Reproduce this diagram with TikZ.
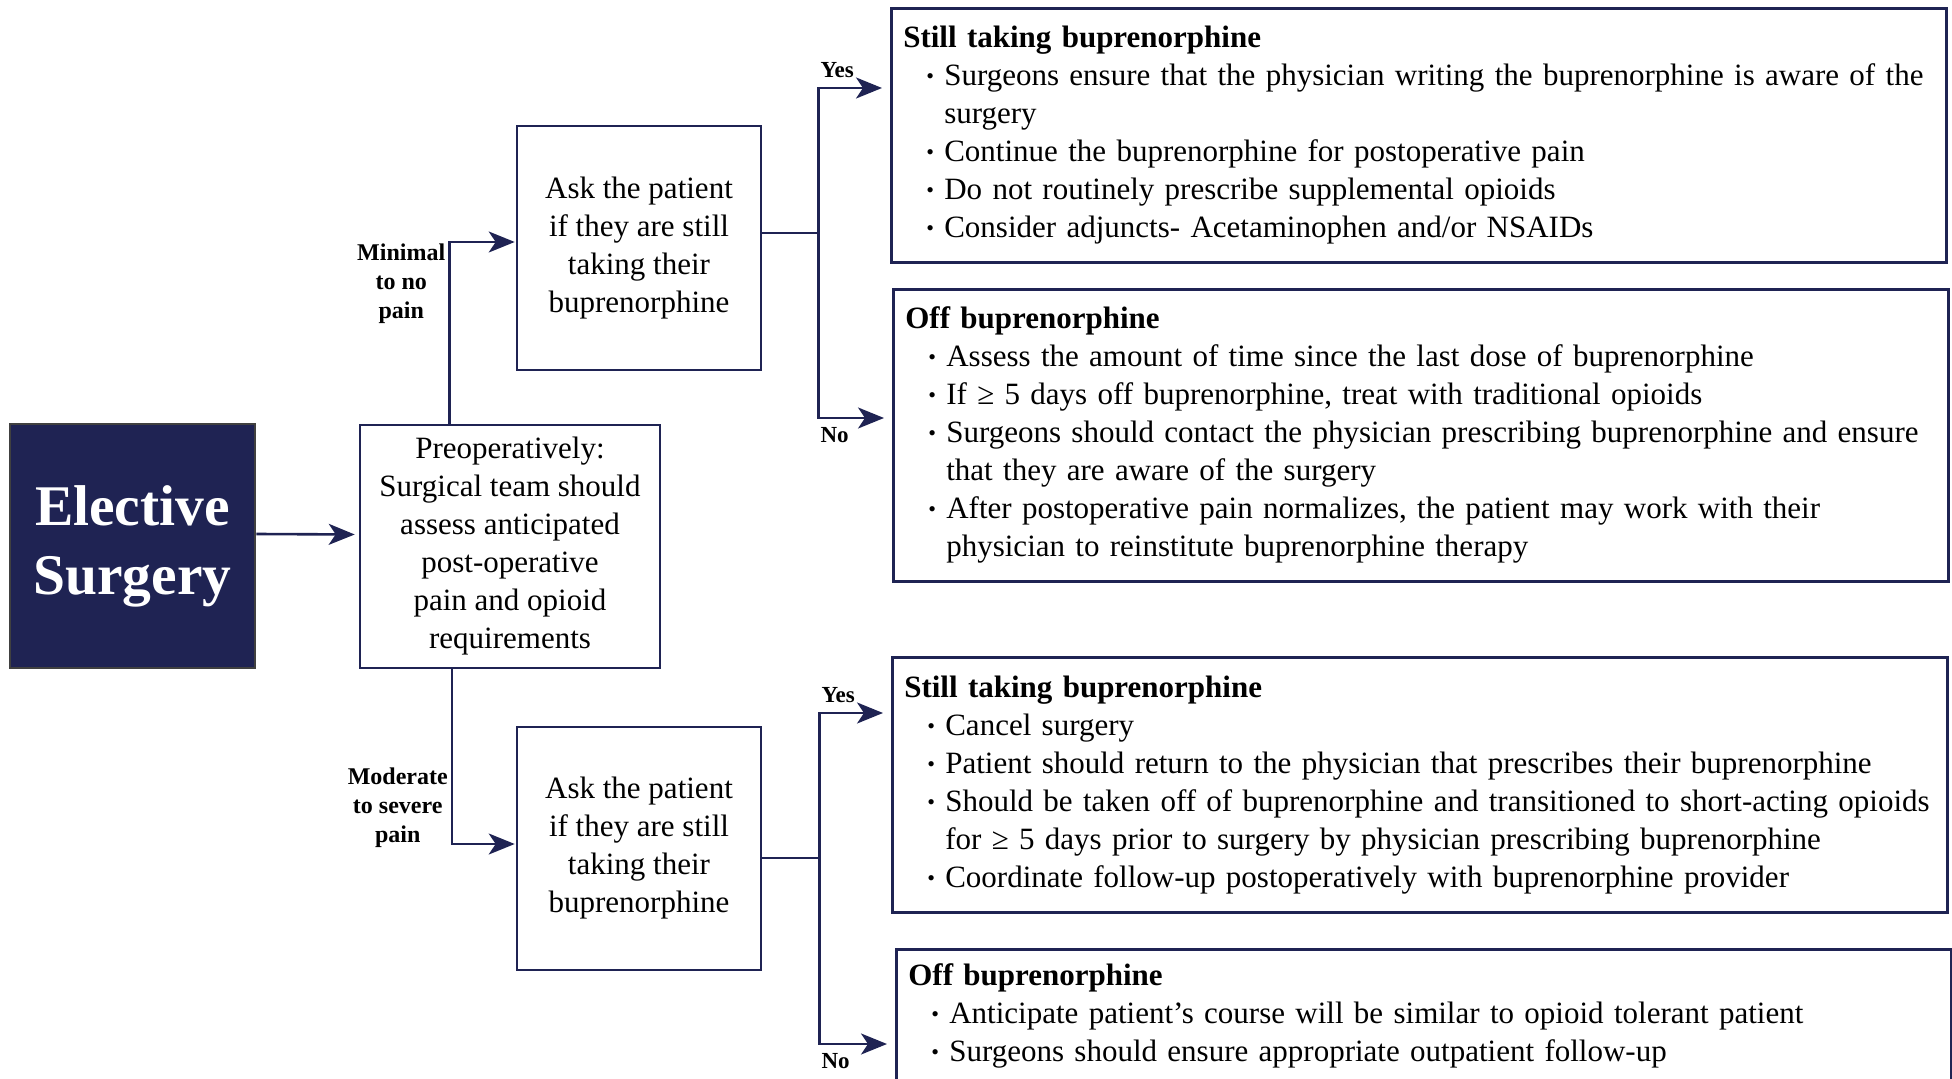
\documentclass[tikz,border=0pt]{standalone}
\usepackage{fontspec}
\setmainfont{Liberation Serif}
\usetikzlibrary{arrows.meta}
\definecolor{navy}{RGB}{31,35,83}
\newcommand{\bitem}{\par\hangindent=20.5pt\hangafter=1\noindent\hspace*{11.5pt}\makebox[9pt][l]{\raisebox{1pt}{\fontsize{11}{11}\selectfont\textbullet}}}

\begin{document}
\begin{tikzpicture}[x=0.5pt, y=-0.5pt, line width=1.3pt,
  arr/.style={draw=navy, -{Stealth[length=13pt, width=10.5pt, inset=3.5pt]}},
  qbox/.style={draw=navy, rectangle, inner sep=0pt, align=center, font=\fontsize{15.5}{19}\selectfont},
  info/.style={draw=navy, rectangle, anchor=north west, inner xsep=6pt, inner ysep=7pt, text width=515.5pt, font=\fontsize{15.5}{19}\selectfont},
  lbl/.style={font=\bfseries\fontsize{12}{14.5}\selectfont, align=center, inner sep=1.5pt},
  yes/.style={pos=0.5, anchor=south west, inner xsep=0.5pt, inner ysep=4.5pt, font=\bfseries\fontsize{11.5}{13}\selectfont},
  no/.style={pos=0.5, anchor=north west, inner xsep=0.5pt, inner ysep=4pt, font=\bfseries\fontsize{11.5}{13}\selectfont}]
\useasboundingbox (0,0) rectangle (1952,1079);
\clip (0,0) rectangle (1952,1079);

% left column
\node[qbox, fill=navy, draw=black!75, text=white, minimum width=122.5pt, minimum height=122pt,
  font=\bfseries\fontsize{28.75}{34.5}\selectfont] (elec) at (132.5,546) {Elective\\Surgery};
\node[qbox, minimum width=150pt, minimum height=121.5pt] (preop) at (510,546.5)
  {Preoperatively:\\Surgical team should\\assess anticipated\\post-operative\\pain and opioid\\requirements};
\node[qbox, minimum width=122pt, minimum height=122pt] (ask1) at (639,248)
  {Ask the patient\\if they are still\\taking their\\buprenorphine};
\node[qbox, minimum width=122pt, minimum height=121.5pt] (ask2) at (639,848.5)
  {Ask the patient\\if they are still\\taking their\\buprenorphine};

% right column
\node[info, minimum height=127pt] (still1) at (890,7) {{\bfseries Still taking buprenorphine}
  \bitem Surgeons ensure that the physician writing the buprenorphine is aware of the\newline surgery
  \bitem Continue the buprenorphine for postoperative pain
  \bitem Do not routinely prescribe supplemental opioids
  \bitem Consider adjuncts- Acetaminophen and/or NSAIDs\par};
\node[info, minimum height=146pt] (off1) at (892,288) {{\bfseries Off buprenorphine}
  \bitem Assess the amount of time since the last dose of buprenorphine
  \bitem If ≥ 5 days off buprenorphine, treat with traditional opioids
  \bitem Surgeons should contact the physician prescribing buprenorphine and ensure\newline that they are aware of the surgery
  \bitem After postoperative pain normalizes, the patient may work with their\newline physician to reinstitute buprenorphine therapy\par};
\node[info, minimum height=127.5pt] (still2) at (891,656) {{\bfseries Still taking buprenorphine}
  \bitem Cancel surgery
  \bitem Patient should return to the physician that prescribes their buprenorphine
  \bitem Should be taken off of buprenorphine and transitioned to short-acting opioids\newline for ≥ 5 days prior to surgery by physician prescribing buprenorphine
  \bitem Coordinate follow-up postoperatively with buprenorphine provider\par};
\node[info] (off2) at (895,948) {{\bfseries Off buprenorphine}
  \bitem Anticipate patient’s course will be similar to opioid tolerant patient
  \bitem Surgeons should ensure appropriate outpatient follow-up\rule[-40pt]{0pt}{0pt}\par};

% connectors
\draw[arr, shorten >=2pt] ([yshift=6pt]elec.east) -- ([yshift=6pt]preop.west);
\draw[arr, shorten >=0.5pt] ([xshift=-30.25pt]preop.north) |- node[lbl, pos=0.385, left] {Minimal\\to no\\pain} ([yshift=3pt]ask1.west);
\draw[arr, shorten >=0.5pt] ([xshift=-29pt]preop.south) |- node[lbl, pos=0.395, left] {Moderate\\to severe\\pain} ([yshift=2.25pt]ask2.west);

\draw[draw=navy] ([yshift=7.5pt]ask1.east) -- ++(56,0) coordinate (fork1);
\draw[arr, shorten >=4pt] (fork1) |- node[yes] {Yes} ([yshift=-40.5pt]still1.north west);
\draw[arr, shorten >=4pt] (fork1) |- node[no] {No} ([yshift=-65pt]off1.north west);

\draw[draw=navy] ([yshift=-4.75pt]ask2.east) -- ++(57,0) coordinate (fork2);
\draw[arr, shorten >=4pt] (fork2) |- node[yes] {Yes} ([yshift=-28.5pt]still2.north west);
\draw[arr, shorten >=4pt] (fork2) |- node[no] {No} ([yshift=-48pt]off2.north west);
\end{tikzpicture}
\end{document}
